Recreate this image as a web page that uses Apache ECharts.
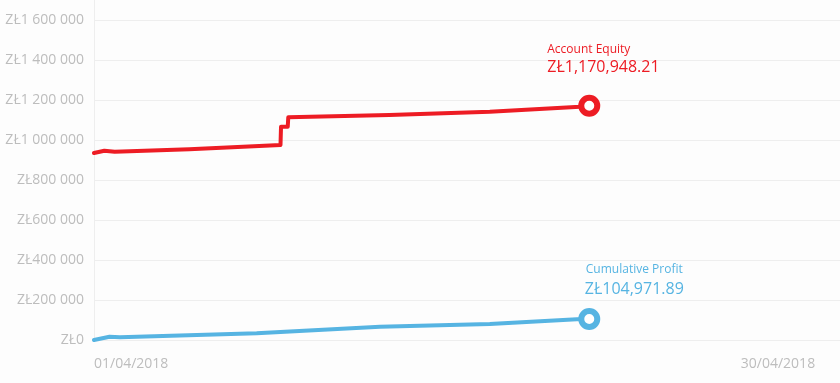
<!DOCTYPE html>
<html>
<head>
<meta charset="utf-8">
<script src="https://cdn.jsdelivr.net/npm/echarts@6/dist/echarts.min.js"></script>
<style>
html,body{margin:0;padding:0;background:#fdfdfd;}
#c{width:840px;height:383px;}
</style>
</head>
<body>
<div id="c"></div>
<script>
// ---- data ----
const seriesNames = ['Account Equity', 'Cumulative Profit'];
const equityTimes = ['2018-04-01 00:00', '2018-04-01 10:00', '2018-04-01 20:00', '2018-04-04 20:00', '2018-04-08 12:00', '2018-04-08 12:30', '2018-04-08 19:00', '2018-04-08 19:30', '2018-04-12 21:00', '2018-04-16 22:00', '2018-04-20 13:00', '2018-04-20 22:00'];
const equityValues = [935000, 946000, 941500, 953500, 975000, 1066500, 1066500, 1113500, 1125000, 1141500, 1166500, 1170948.21];
const profitTimes = ['2018-04-01 00:00', '2018-04-01 15:00', '2018-04-02 01:00', '2018-04-07 13:00', '2018-04-12 12:00', '2018-04-16 22:00', '2018-04-20 10:00', '2018-04-20 22:00'];
const profitValues = [0, 16000, 13500, 33500, 66500, 80000, 103500, 104971.89];
const endLabels = ['ZŁ1,170,948.21', 'ZŁ104,971.89'];
const xRange = ['2018-04-01 00:00', '2018-05-01 00:00'];
const xTickDates = ['2018-04-01 00:00', '2018-04-30 00:00'];
const yMin = 0, yMax = 1700000, yStep = 200000;

const RED = '#ed1c24', BLUE = '#56b4e2';
const FONT = '"Open Sans", sans-serif';
const t = s => +echarts.time.parse(s);

function buildData(times, values, color, labelOpt) {
  return times.map((tm, i) => {
    const item = { value: [t(tm), values[i]] };
    if (i === times.length - 1) {
      item.symbol = 'circle';
      item.symbolSize = 16;
      item.itemStyle = { color: '#fff', borderColor: color, borderWidth: 6 };
      item.label = labelOpt;
    }
    return item;
  });
}

function fmtY(v) {
  return 'ZŁ' + String(Math.round(v)).replace(/\B(?=(\d{3})+(?!\d))/g, ' ');
}
function fmtDate(v) {
  const d = new Date(v);
  const p = n => (n < 10 ? '0' : '') + n;
  return p(d.getDate()) + '/' + p(d.getMonth() + 1) + '/' + d.getFullYear();
}

const chart = echarts.init(document.getElementById('c'), null, { renderer: 'canvas' });
chart.setOption({
  backgroundColor: '#fdfdfd',
  animation: false,
  textStyle: { fontFamily: FONT },
  grid: { left: 94, right: 0, top: 0, bottom: 43 },
  xAxis: {
    type: 'value',
    min: t(xRange[0]),
    max: t(xRange[1]),
    axisLine: { show: false },
    axisTick: { show: false },
    splitLine: { show: false },
    axisLabel: {
      customValues: xTickDates.map(t),
      formatter: v => fmtDate(v),
      color: '#bdbdbd',
      fontSize: 14,
      fontFamily: FONT,
      margin: 17,
      alignMinLabel: 'left',
      alignMaxLabel: 'right',
      hideOverlap: false
    }
  },
  yAxis: {
    type: 'value',
    min: yMin,
    max: yMax,
    interval: yStep,
    axisLine: { show: true, lineStyle: { color: '#eeeeee', width: 1 } },
    axisTick: { show: false },
    splitLine: { show: true, showMaxLine: false, lineStyle: { color: '#eeeeee', width: 1 } },
    axisLabel: {
      showMaxLabel: false,
      formatter: v => (v > 1600000 ? '' : fmtY(v)),
      color: '#bdbdbd',
      fontSize: 14,
      fontFamily: FONT,
      margin: 10
    }
  },
  series: [
    {
      name: seriesNames[0],
      type: 'line',
      symbol: 'none',
      showSymbol: true,
      lineStyle: { color: RED, width: 4, cap: 'round', join: 'round' },
      itemStyle: { color: RED },
      z: 3,
      data: buildData(equityTimes, equityValues, RED, {
        show: true,
        position: 'top',
        distance: 16,
        align: 'left',
        offset: [-42, 0],
        formatter: () => '{a|' + seriesNames[0] + '}\n{b|' + endLabels[0] + '}',
        rich: {
          a: { color: RED, fontSize: 12, lineHeight: 15, fontFamily: FONT },
          b: { color: RED, fontSize: 16, lineHeight: 22, fontFamily: FONT }
        }
      })
    },
    {
      name: seriesNames[1],
      type: 'line',
      symbol: 'none',
      showSymbol: true,
      lineStyle: { color: BLUE, width: 4, cap: 'round', join: 'round' },
      itemStyle: { color: BLUE },
      z: 3,
      data: buildData(profitTimes, profitValues, BLUE, {
        show: true,
        position: 'top',
        distance: 8,
        align: 'center',
        offset: [45, 0],
        formatter: () => '{a|' + seriesNames[1] + '}\n{b|' + endLabels[1] + '}',
        rich: {
          a: { color: BLUE, fontSize: 12, lineHeight: 17, fontFamily: FONT },
          b: { color: BLUE, fontSize: 16, lineHeight: 22, fontFamily: FONT }
        }
      })
    }
  ]
});
</script>
</body>
</html>
